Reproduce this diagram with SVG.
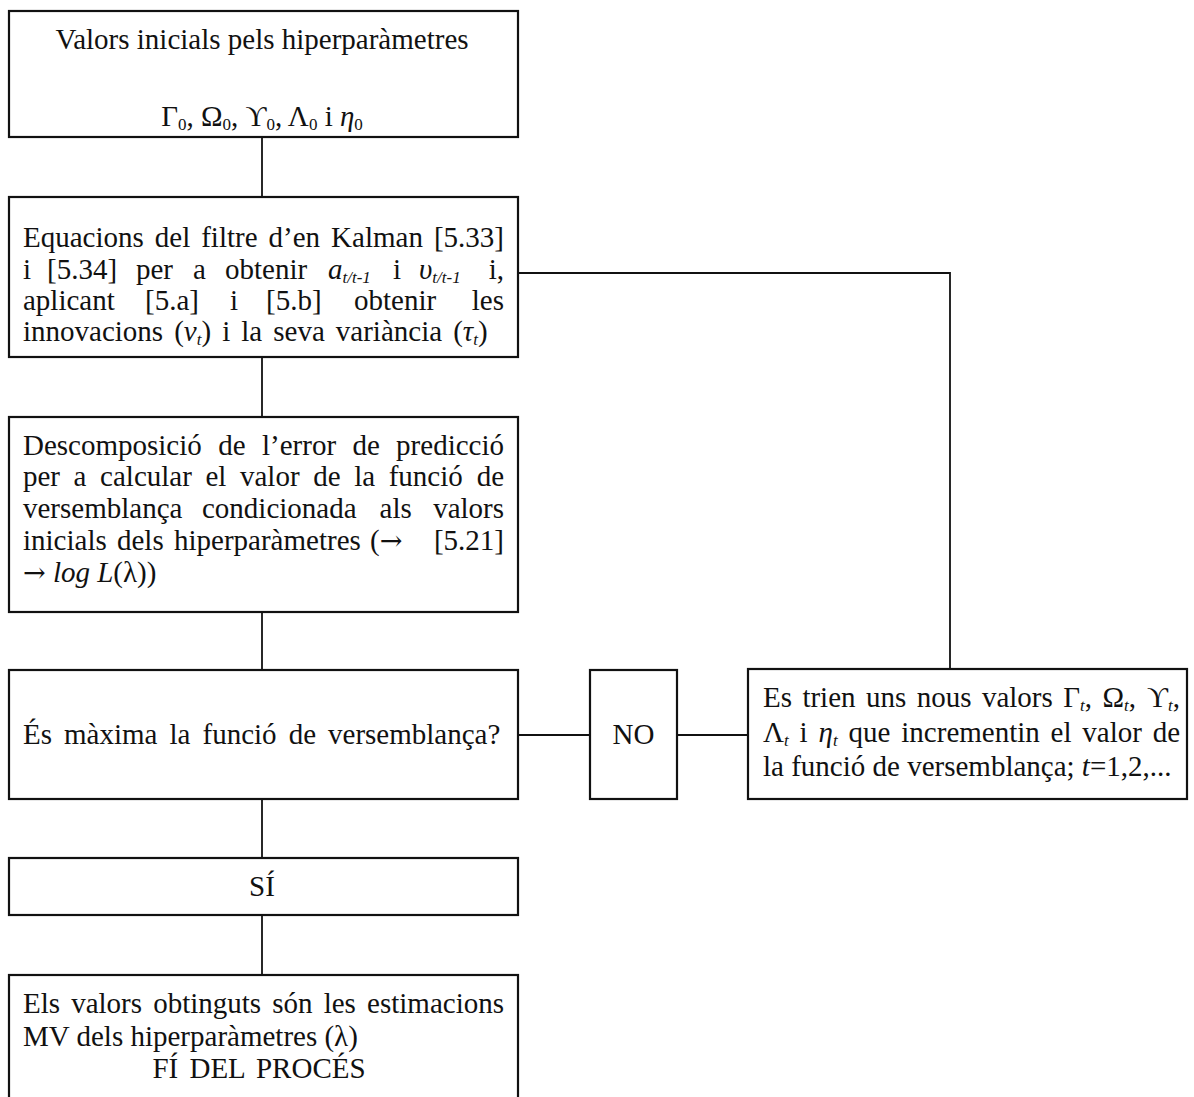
<svg xmlns="http://www.w3.org/2000/svg" width="1194" height="1097" viewBox="0 0 1194 1097">
  <style>
    .box { fill: #fff; stroke: #111; stroke-width: 2.2; }
    .wire { fill: none; stroke: #111; stroke-width: 1.8; }
    text { font-family: "Liberation Serif", "Times New Roman", serif; font-size: 29px; fill: #111; }
    .i { font-style: italic; }
    .s { font-size: 17px; }
    .e { text-anchor: end; }
    .m { text-anchor: middle; }
    .arr { font-family: "DejaVu Serif", serif; font-size: 27px; }
  </style>

  <rect width="1194" height="1097" fill="#fff"/>

  <!-- connectors -->
  <g id="connectors">
    <path class="wire" d="M262,137 V197"/>
    <path class="wire" d="M262,357 V417"/>
    <path class="wire" d="M262,612 V670"/>
    <path class="wire" d="M262,799 V858"/>
    <path class="wire" d="M262,915 V975"/>
    <path class="wire" d="M518,735 H590"/>
    <path class="wire" d="M677,735 H748"/>
    <path class="wire" d="M518,273 H950 V669"/>
  </g>

  <!-- initial values -->
  <g id="node-init">
    <rect class="box" x="9" y="11" width="509" height="126"/>
    <text class="m" x="262" y="49">Valors inicials pels hiperparàmetres</text>
    <text class="m" x="262" y="126">Γ<tspan class="s" dy="4">0</tspan><tspan dy="-4">, Ω</tspan><tspan class="s" dy="4">0</tspan><tspan dy="-4">, ϒ</tspan><tspan class="s" dy="4">0</tspan><tspan dy="-4">, Λ</tspan><tspan class="s" dy="4">0</tspan><tspan dy="-4"> i </tspan><tspan class="i">η</tspan><tspan class="s" dy="4">0</tspan></text>
  </g>

  <!-- Kalman filter -->
  <g id="node-kalman">
    <rect class="box" x="9" y="197" width="509" height="160"/>
    <text x="23" y="247">Equacions</text>
    <text x="154.8" y="247">del</text>
    <text x="201.2" y="247">filtre</text>
    <text x="268.6" y="247">d’en</text>
    <text x="331.1" y="247">Kalman</text>
    <text class="e" x="504" y="247">[5.33]</text>

    <text x="23" y="279">i</text>
    <text x="47" y="279">[5.34]</text>
    <text x="136" y="279">per</text>
    <text x="193" y="279">a</text>
    <text x="225" y="279">obtenir</text>
    <text class="i" x="328" y="279">a<tspan class="s" dy="4">t/t-1</tspan></text>
    <text x="393" y="279">i</text>
    <text class="i" x="419" y="279">υ<tspan class="s" dy="4">t/t-1</tspan></text>
    <text class="e" x="504" y="279">i,</text>

    <text x="23" y="310">aplicant</text>
    <text x="145" y="310">[5.a]</text>
    <text x="230" y="310">i</text>
    <text x="266" y="310">[5.b]</text>
    <text x="354" y="310">obtenir</text>
    <text class="e" x="504" y="310">les</text>

    <text x="23" y="341" word-spacing="3.8">innovacions (<tspan class="i">ν</tspan><tspan class="s i" dy="4">t</tspan><tspan dy="-4">) i la seva variància (</tspan><tspan class="i">τ</tspan><tspan class="s i" dy="4">t</tspan><tspan dy="-4">)</tspan></text>
  </g>

  <!-- prediction error decomposition -->
  <g id="node-likelihood">
    <rect class="box" x="9" y="417" width="509" height="195"/>
    <text x="23" y="455">Descomposició</text>
    <text x="218.2" y="455">de</text>
    <text x="262" y="455">l’error</text>
    <text x="352.5" y="455">de</text>
    <text class="e" x="504" y="455">predicció</text>

    <text x="23" y="486">per</text>
    <text x="73.6" y="486">a</text>
    <text x="100.1" y="486">calcular</text>
    <text x="205.5" y="486">el</text>
    <text x="240" y="486">valor</text>
    <text x="313.2" y="486">de</text>
    <text x="354.2" y="486">la</text>
    <text x="388.7" y="486">funció</text>
    <text class="e" x="504" y="486">de</text>

    <text x="23" y="518">versemblança</text>
    <text x="202" y="518">condicionada</text>
    <text x="379.6" y="518">als</text>
    <text class="e" x="504" y="518">valors</text>

    <text x="23" y="550">inicials</text>
    <text x="117" y="550">dels</text>
    <text x="174" y="550">hiperparàmetres</text>
    <text x="370" y="550">(<tspan class="arr">→</tspan></text>
    <text class="e" x="504" y="550">[5.21]</text>

    <text x="23" y="582"><tspan class="arr">→</tspan> <tspan class="i">log L</tspan>(λ))</text>
  </g>

  <!-- maximum test -->
  <g id="node-question">
    <rect class="box" x="9" y="670" width="509" height="129"/>
    <text x="23" y="744" word-spacing="4.8">És màxima la funció de versemblança?</text>
  </g>

  <g id="node-no">
    <rect class="box" x="590" y="670" width="87" height="129"/>
    <text class="m" x="633.5" y="744">NO</text>
  </g>

  <!-- new hyperparameter values -->
  <g id="node-update">
    <rect class="box" x="748" y="669" width="439" height="130"/>
    <text x="763" y="707">Es</text>
    <text x="802.4" y="707">trien</text>
    <text x="866" y="707">uns</text>
    <text x="916.7" y="707">nous</text>
    <text x="981.9" y="707">valors</text>
    <text x="1063.2" y="707">Γ<tspan class="s i" dy="4">t</tspan><tspan dy="-4">,</tspan></text>
    <text x="1102.5" y="707">Ω<tspan class="s i" dy="4">t</tspan><tspan dy="-4">,</tspan></text>
    <text class="e" x="1180" y="707">ϒ<tspan class="s i" dy="4">t</tspan><tspan dy="-4">,</tspan></text>

    <text x="763" y="742">Λ<tspan class="s i" dy="4">t</tspan></text>
    <text x="799.6" y="742">i</text>
    <text x="818.5" y="742"><tspan class="i">η</tspan><tspan class="s i" dy="4">t</tspan></text>
    <text x="848.6" y="742">que</text>
    <text x="901.3" y="742">incrementin</text>
    <text x="1050.6" y="742">el</text>
    <text x="1082.3" y="742">valor</text>
    <text class="e" x="1180" y="742">de</text>

    <text x="763" y="776">la funció de versemblança; <tspan class="i">t</tspan>=1,2,...</text>
  </g>

  <g id="node-yes">
    <rect class="box" x="9" y="858" width="509" height="57"/>
    <text class="m" x="262" y="896">SÍ</text>
  </g>

  <!-- end of process -->
  <g id="node-end">
    <rect class="box" x="9" y="975" width="509" height="135"/>
    <text x="23" y="1013">Els</text>
    <text x="71.2" y="1013">valors</text>
    <text x="153.2" y="1013">obtinguts</text>
    <text x="272.3" y="1013">són</text>
    <text x="323.7" y="1013">les</text>
    <text class="e" x="504" y="1013">estimacions</text>
    <text x="23" y="1046">MV dels hiperparàmetres (λ)</text>
    <text class="m" x="259" y="1078" word-spacing="4">FÍ DEL PROCÉS</text>
  </g>
</svg>
